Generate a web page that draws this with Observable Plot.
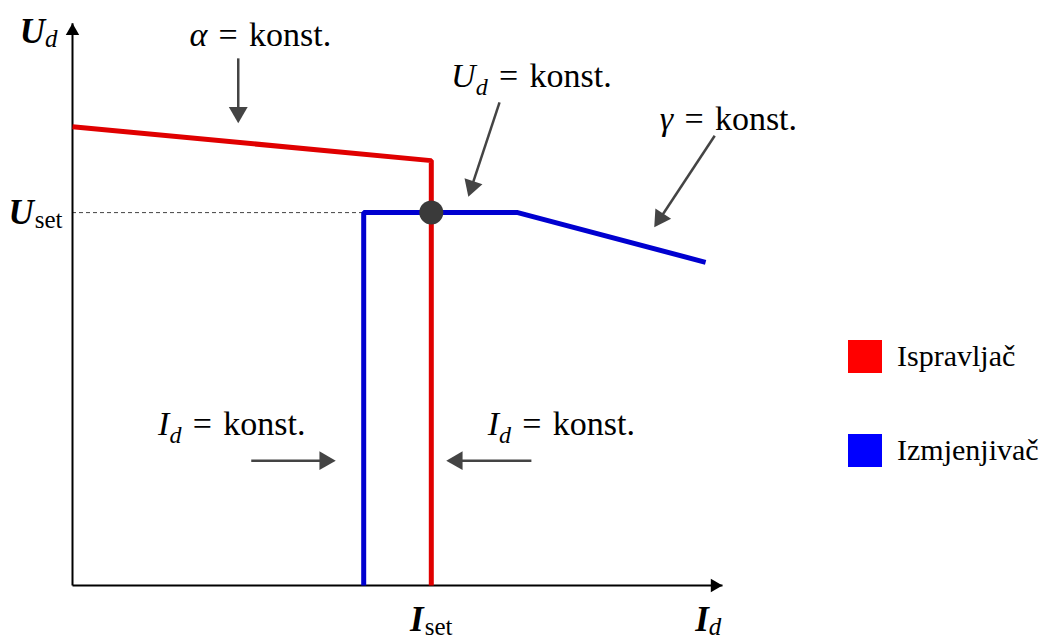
<!DOCTYPE html>
<html><head><meta charset="utf-8">
<script src="https://cdn.jsdelivr.net/npm/d3@7"></script>
<script src="https://cdn.jsdelivr.net/npm/@observablehq/plot@0.6"></script>
<style>
body{margin:0;background:#fff;}
#wrap{position:relative;width:1045px;height:639px;overflow:hidden;}
.legend{position:absolute;left:848px;height:34px;font-family:"Liberation Serif",serif;font-size:30px;display:flex;align-items:center;color:#000;white-space:nowrap;}
.legend .sw{width:34px;height:33px;display:inline-block;margin-right:15px;}
</style></head><body><div id="wrap"></div>
<script>
// ---- data ----
const seriesNames = ["Ispravljač", "Izmjenjivač"];
const seriesColors = ["#e00000", "#0000d0"];
const legendColors = ["#ff0000", "#0000ff"];

const rectifierI = [0, 5.52, 5.52];
const rectifierU = [8.12, 7.52, 0];
const inverterI = [4.48, 4.48, 6.85, 9.74];
const inverterU = [0, 6.60, 6.60, 5.72];

const Iset = 5.52;
const Uset = 6.60;

const annotationText = ["α = konst.", "U_d = konst.", "γ = konst.", "I_d = konst.", "I_d = konst."];
const annotationI = [2.89, 7.06, 10.09, 2.45, 7.52];
const annotationU = [9.75, 9.01, 8.26, 2.85, 2.85];
const arrowFromI = [2.55, 6.57, 9.88, 2.75, 7.06];
const arrowFromU = [9.33, 8.55, 7.96, 2.21, 2.21];
const arrowToI = [2.55, 6.09, 8.95, 4.05, 5.75];
const arrowToU = [8.18, 6.88, 6.34, 2.21, 2.21];

const axisLabelText = ["U_d", "U_set", "I_set", "I_d"];
const axisLabelI = [-0.52, -0.57, Iset, 9.78];
const axisLabelU = [9.80, Uset, -0.61, -0.61];

// ---- layout ----
const W = 1045, H = 639;
const mL = 72, mR = 323, mT = 20, mB = 54;
const sx = d3.scaleLinear([0, 10], [mL, W - mR]);
const sy = d3.scaleLinear([0, 10], [H - mB, mT]);

const rectifier = rectifierI.map((d, i) => ({I: d, U: rectifierU[i]}));
const inverter = inverterI.map((d, i) => ({I: d, U: inverterU[i]}));

function arrowParts(fromI, fromU, toI, toU, r) {
  const shafts = [], heads = [];
  fromI.forEach((_, i) => {
    const x1 = sx(fromI[i]), y1 = sy(fromU[i]), x2 = sx(toI[i]), y2 = sy(toU[i]);
    const dx = x2 - x1, dy = y2 - y1, len = Math.hypot(dx, dy);
    const ux = dx / len, uy = dy / len;
    const k = 1.555 * r;
    const cx = x2 - ux * k, cy = y2 - uy * k;
    shafts.push({x1: fromI[i], y1: fromU[i], x2: sx.invert(cx), y2: sy.invert(cy)});
    heads.push({x: sx.invert(cx), y: sy.invert(cy), rot: Math.atan2(ux, -uy) * 180 / Math.PI});
  });
  return {shafts, heads};
}

const ann = arrowParts(arrowFromI, arrowFromU, arrowToI, arrowToU, 7);
const axisEndI = [10, 0], axisEndU = [0, 9.95];
const axes = arrowParts([0, 0], [0, 0], axisEndI, axisEndU, 5);
const axisLines = axisEndI.map((d, i) => ({x1: 0, y1: 0, x2: d, y2: axisEndU[i]}));

const annotations = annotationText.map((t, i) => ({t, I: annotationI[i], U: annotationU[i]}));
const axisLabels = axisLabelText.map((t, i) => ({t, I: axisLabelI[i], U: axisLabelU[i]}));

const chart = Plot.plot({
  width: W, height: H,
  marginLeft: mL, marginRight: mR, marginTop: mT, marginBottom: mB,
  x: {domain: [0, 10], axis: null},
  y: {domain: [0, 10], axis: null},
  style: {background: "#fff", overflow: "visible"},
  marks: [
    Plot.ruleY([Uset], {x1: 0, x2: inverterI[1], stroke: "#444", strokeWidth: 1, strokeDasharray: "4,3"}),
    Plot.link(axisLines, {x1: "x1", y1: "y1", x2: "x2", y2: "y2", stroke: "#000", strokeWidth: 2}),
    Plot.dot(axes.heads, {x: "x", y: "y", rotate: "rot", symbol: "triangle", r: 5, fill: "#000", stroke: null}),
    Plot.line(inverter, {x: "I", y: "U", stroke: seriesColors[1], strokeWidth: 5, strokeLinejoin: "miter", strokeLinecap: "butt"}),
    Plot.line(rectifier, {x: "I", y: "U", stroke: seriesColors[0], strokeWidth: 5, strokeLinejoin: "miter", strokeLinecap: "butt"}),
    Plot.dot([{I: Iset, U: Uset}], {x: "I", y: "U", r: 12, fill: "#3a3a3a", stroke: null}),
    Plot.link(ann.shafts, {x1: "x1", y1: "y1", x2: "x2", y2: "y2", stroke: "#444", strokeWidth: 2.5}),
    Plot.dot(ann.heads, {x: "x", y: "y", rotate: "rot", symbol: "triangle", r: 7, fill: "#444", stroke: null}),
    Plot.text(annotations, {x: "I", y: "U", text: "t", fontSize: 34, fontFamily: "Liberation Serif", textAnchor: "middle", lineAnchor: "middle", fill: "#000"}),
    Plot.text(axisLabels, {x: "I", y: "U", text: "t", fontSize: 35, fontWeight: "bold", fontFamily: "Liberation Serif", textAnchor: "middle", lineAnchor: "middle", fill: "#000"})
  ]
});

// ---- subscripts / italics ----
d3.select(chart).selectAll("g[aria-label=text]").each(function() {
  const g = d3.select(this);
  const fs = +(g.attr("font-size") || 34);
  const bold = g.attr("font-weight") === "bold";
  g.selectAll("text").each(function() {
    const el = d3.select(this);
    const s = this.textContent;
    const m = s.match(/^(\S)(?:_(\S+))?(.*)$/);
    if (!m) return;
    this.textContent = "";
    el.append("tspan").attr("font-style", "italic").text(m[1]);
    const shift = bold ? 4 : 8;
    if (m[2]) {
      el.append("tspan")
        .attr("font-size", Math.round(fs * 0.72))
        .attr("font-weight", "normal")
        .attr("font-style", m[2] === "d" ? "italic" : "normal")
        .attr("dy", shift)
        .attr("dx", m[2] === "d" ? 0 : 1)
        .text(m[2]);
    }
    if (m[3]) {
      el.append("tspan")
        .attr("font-weight", "normal")
        .attr("dy", m[2] ? -shift : null)
        .text(m[3].replace(" = ", "\u2004=\u2004"));
    }
  });
});

const wrap = document.getElementById("wrap");
wrap.appendChild(chart);
const legendTops = [339, 433];
seriesNames.forEach((n, i) => {
  const div = document.createElement("div");
  div.className = "legend";
  div.style.top = legendTops[i] + "px";
  const sw = document.createElement("span");
  sw.className = "sw";
  sw.style.background = legendColors[i];
  div.appendChild(sw);
  div.appendChild(document.createTextNode(n));
  wrap.appendChild(div);
});
</script></body></html>
